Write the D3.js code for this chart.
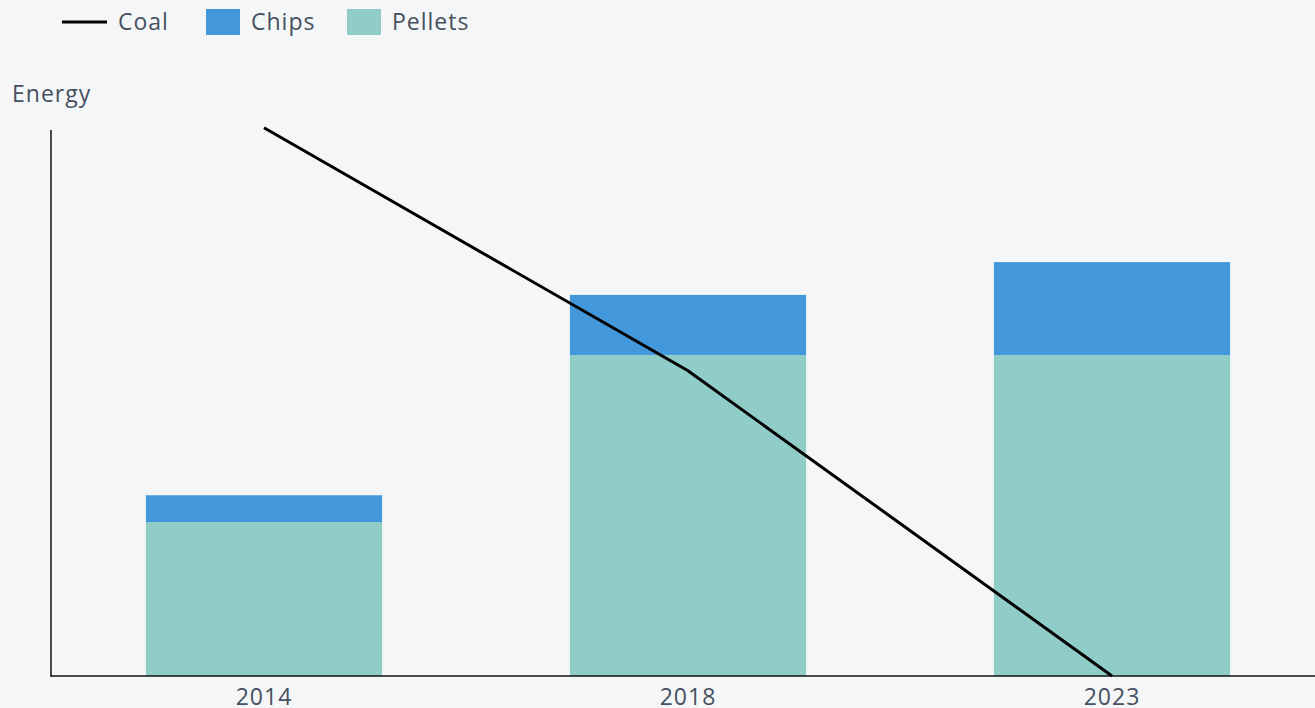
<!DOCTYPE html>
<html>
<head>
<meta charset="utf-8">
<script src="https://cdn.jsdelivr.net/npm/d3@7"></script>
<style>
  body { margin: 0; background: #f4f6f8; }
  svg { display: block; font-family: "Open Sans", Lato, sans-serif; }
  .lbl { fill: #46505e; font-size: 23px; letter-spacing: 1px; }
</style>
</head>
<body>
<svg id="chart"></svg>
<script>
const years = ['2014', '2018', '2023']
const pellets = [28.2, 58.8, 58.8]
const chips = [4.9, 11.0, 17.0]
const coal = [100.4, 55.9, 0]

const W = 1315, H = 708
const margin = {top: 130, left: 52, bottom: 32}
const plotBottom = H - margin.bottom

const svg = d3.select('#chart').attr('width', W).attr('height', H)

const x = d3.scaleBand()
    .domain(years)
    .range([margin.left, margin.left + 3 * 424])
    .paddingInner(0.443)
    .paddingOuter(0.2215)

const y = d3.scaleLinear()
    .domain([0, 100])
    .range([plotBottom, margin.top])

// stacked bars
const rows = years.map((yr, i) => ({year: yr, Pellets: pellets[i], Chips: chips[i]}))
const stack = d3.stack().keys(['Pellets', 'Chips'])(rows)
const colors = {Pellets: '#90cdc8', Chips: '#4398db'}

svg.append('g')
    .selectAll('g')
    .data(stack)
    .join('g')
        .attr('fill', d => colors[d.key])
    .selectAll('rect')
    .data(d => d)
    .join('rect')
        .attr('x', d => x(d.data.year))
        .attr('y', d => y(d[1]))
        .attr('width', x.bandwidth())
        .attr('height', d => y(d[0]) - y(d[1]))

// coal line
const line = d3.line()
    .x((d, i) => x(years[i]) + x.bandwidth() / 2)
    .y(d => y(d))

svg.append('path')
    .datum(coal)
    .attr('fill', 'none')
    .attr('stroke', '#000')
    .attr('stroke-width', 3)
    .attr('d', line)

// axes
svg.append('line')
    .attr('x1', margin.left - 1).attr('x2', margin.left - 1)
    .attr('y1', margin.top).attr('y2', plotBottom + 1)
    .attr('stroke', '#111').attr('stroke-width', 1.5)

svg.append('line')
    .attr('x1', margin.left - 1).attr('x2', W)
    .attr('y1', plotBottom).attr('y2', plotBottom)
    .attr('stroke', '#111').attr('stroke-width', 1.5)

svg.append('g')
    .selectAll('text')
    .data(years)
    .join('text')
        .attr('class', 'lbl')
        .attr('x', d => x(d) + x.bandwidth() / 2)
        .attr('y', plotBottom + 29)
        .attr('text-anchor', 'middle')
        .text(d => d)

svg.append('text')
    .attr('class', 'lbl')
    .attr('x', 12)
    .attr('y', 102)
    .text('Energy')

// legend
const legend = svg.append('g')
legend.append('line')
    .attr('x1', 62).attr('x2', 107)
    .attr('y1', 22).attr('y2', 22)
    .attr('stroke', '#000').attr('stroke-width', 3)
legend.append('text').attr('class', 'lbl').attr('x', 118).attr('y', 30).text('Coal')

const legItems = [{key: 'Chips', x: 206}, {key: 'Pellets', x: 347}]
legItems.forEach(it => {
    legend.append('rect')
        .attr('x', it.x).attr('y', 9)
        .attr('width', 34).attr('height', 26)
        .attr('fill', colors[it.key])
    legend.append('text').attr('class', 'lbl')
        .attr('x', it.x + 45).attr('y', 30)
        .text(it.key)
})
</script>
</body>
</html>
